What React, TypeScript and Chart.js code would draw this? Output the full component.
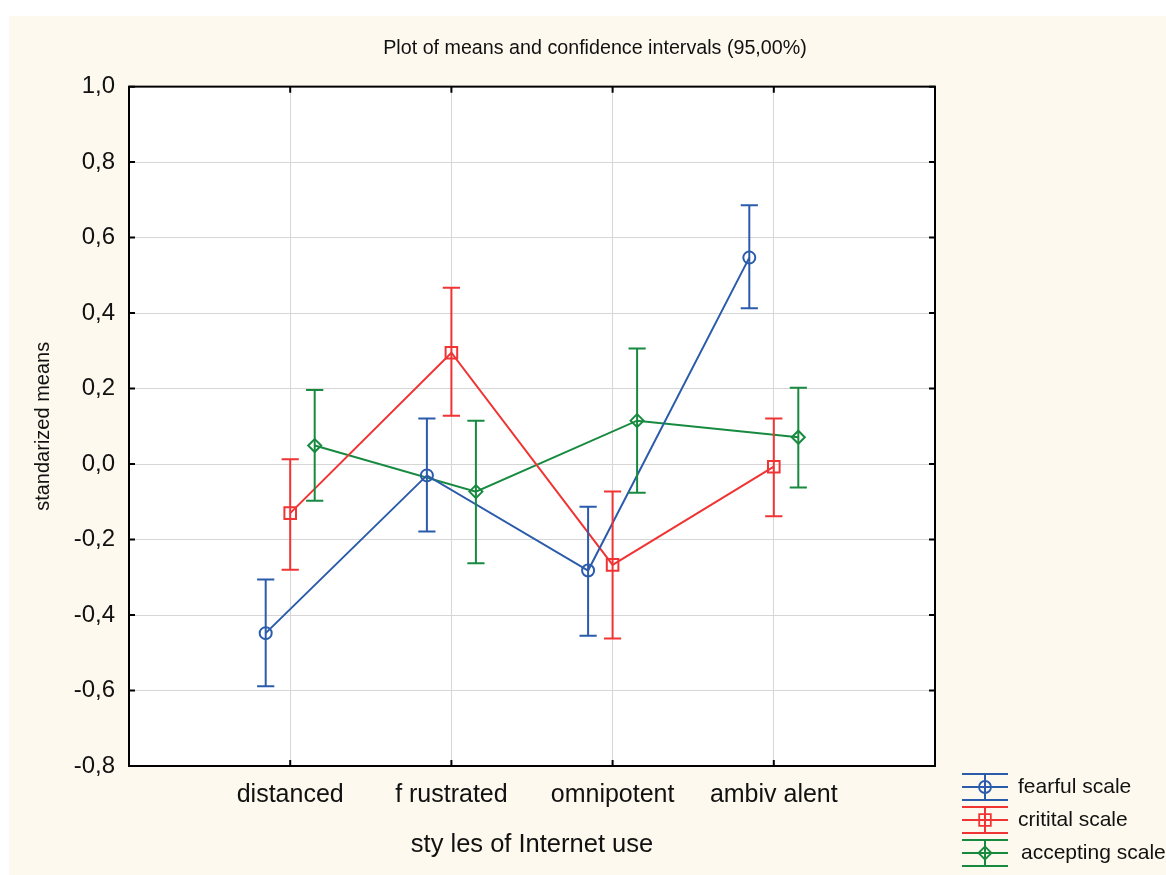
import React, { useEffect, useRef } from "react";
import { Chart, registerables } from "chart.js";

Chart.register(...registerables);

// ---------- data ----------
const categories = ["distanced", "f rustrated", "omnipotent", "ambiv alent"];
const seriesNames = ["fearful scale", "critital scale", "accepting scale"];

const fearfulMean = [-0.448, -0.03, -0.282, 0.547];
const fearfulLow = [-0.589, -0.179, -0.455, 0.413];
const fearfulHigh = [-0.306, 0.121, -0.113, 0.686];

const criticalMean = [-0.13, 0.295, -0.267, -0.007];
const criticalLow = [-0.28, 0.128, -0.462, -0.138];
const criticalHigh = [0.013, 0.467, -0.073, 0.121];

const acceptingMean = [0.049, -0.073, 0.115, 0.071];
const acceptingLow = [-0.097, -0.263, -0.076, -0.062];
const acceptingHigh = [0.196, 0.115, 0.306, 0.202];

const yTickValues = [-0.8, -0.6, -0.4, -0.2, 0, 0.2, 0.4, 0.6, 0.8, 1.0];

const chartTitle = "Plot of means and confidence intervals (95,00%)";
const xTitle = "sty les of Internet use";
const yTitle = "standarized means";

// ---------- styles ----------
const FONT = '"Liberation Sans", Arial, Helvetica, sans-serif';
const COLORS = ["#2b5cab", "#f03434", "#178a40"];
const OFFSETS = [-0.152, 0, 0.152];
const POINT_STYLES = ["circle", "rect", "rectRot"];
const POINT_RADII = [6, 8.2, 6.5];
const TEXT = "#111111";
const GRID = "#d6d6d6";
const CREAM = "#fdf9ee";

const means = [fearfulMean, criticalMean, acceptingMean];
const lows = [fearfulLow, criticalLow, acceptingLow];
const highs = [fearfulHigh, criticalHigh, acceptingHigh];

const fmt = (v: number) => v.toFixed(1).replace(".", ",").replace("-0,0", "0,0");

function drawMarker(ctx: CanvasRenderingContext2D, style: string, x: number, y: number, r: number) {
  ctx.beginPath();
  if (style === "circle") {
    ctx.arc(x, y, r, 0, Math.PI * 2);
  } else if (style === "rect") {
    const s = r * Math.SQRT1_2;
    ctx.rect(x - s, y - s, 2 * s, 2 * s);
  } else {
    ctx.moveTo(x - r, y);
    ctx.lineTo(x, y - r);
    ctx.lineTo(x + r, y);
    ctx.lineTo(x, y + r);
    ctx.closePath();
  }
  ctx.stroke();
}

const backgroundPlugin = {
  id: "bgPlugin",
  beforeDraw(chart: any) {
    const { ctx, width, height, chartArea } = chart;
    ctx.save();
    ctx.fillStyle = "#ffffff";
    ctx.fillRect(0, 0, width, height);
    ctx.fillStyle = CREAM;
    ctx.fillRect(9, 16, width - 9, height - 16);
    ctx.fillStyle = "#ffffff";
    ctx.fillRect(chartArea.left, chartArea.top, chartArea.right - chartArea.left, chartArea.bottom - chartArea.top);
    ctx.restore();
  },
};

const errorBarPlugin = {
  id: "errorBars",
  afterDatasetsDraw(chart: any) {
    const { ctx } = chart;
    const xs = chart.scales.x;
    const ys = chart.scales.y;
    chart.data.datasets.forEach((ds: any) => {
      ctx.save();
      ctx.strokeStyle = ds.borderColor;
      ctx.lineWidth = 2;
      ds.data.forEach((p: any, i: number) => {
        const px = xs.getPixelForValue(p.x);
        const yl = ys.getPixelForValue(ds.lower[i]);
        const yh = ys.getPixelForValue(ds.upper[i]);
        const cap = 8.6;
        ctx.beginPath();
        ctx.moveTo(px, yh);
        ctx.lineTo(px, yl);
        ctx.moveTo(px - cap, yh);
        ctx.lineTo(px + cap, yh);
        ctx.moveTo(px - cap, yl);
        ctx.lineTo(px + cap, yl);
        ctx.stroke();
      });
      ctx.restore();
    });
  },
};

const framePlugin = {
  id: "framePlugin",
  afterDraw(chart: any) {
    const { ctx, chartArea } = chart;
    const { left, right, top, bottom } = chartArea;
    const xs = chart.scales.x;
    const ys = chart.scales.y;
    ctx.save();
    ctx.strokeStyle = "#000000";
    ctx.lineWidth = 2;
    ctx.strokeRect(left, top, right - left, bottom - top);
    const tl = 6;
    ctx.beginPath();
    ys.ticks.forEach((t: any) => {
      const py = ys.getPixelForValue(t.value);
      ctx.moveTo(left, py);
      ctx.lineTo(left + tl, py);
      ctx.moveTo(right, py);
      ctx.lineTo(right - tl, py);
    });
    xs.ticks.forEach((t: any) => {
      const px = xs.getPixelForValue(t.value);
      ctx.moveTo(px, top);
      ctx.lineTo(px, top + tl);
      ctx.moveTo(px, bottom);
      ctx.lineTo(px, bottom - tl);
    });
    ctx.stroke();
    ctx.restore();
  },
};

const legendPlugin = {
  id: "customLegend",
  afterDraw(chart: any) {
    const { ctx } = chart;
    const x0 = 962;
    const x1 = 1008;
    const xc = 985;
    ctx.save();
    chart.data.datasets.forEach((ds: any, s: number) => {
      const cy = 787 + 33 * s;
      ctx.strokeStyle = ds.borderColor;
      ctx.lineWidth = 2;
      ctx.beginPath();
      ctx.moveTo(x0, cy - 13);
      ctx.lineTo(x1, cy - 13);
      ctx.moveTo(x0, cy);
      ctx.lineTo(x1, cy);
      ctx.moveTo(x0, cy + 13);
      ctx.lineTo(x1, cy + 13);
      ctx.moveTo(xc, cy - 13);
      ctx.lineTo(xc, cy + 13);
      ctx.stroke();
      ctx.lineWidth = 1.8;
      drawMarker(ctx, ds.pointStyle, xc, cy, ds.pointRadius);
      ctx.fillStyle = TEXT;
      ctx.font = `21px ${FONT}`;
      ctx.textAlign = "left";
      ctx.textBaseline = "middle";
      ctx.fillText(ds.label, s === 2 ? 1021 : 1018, cy);
    });
    ctx.restore();
  },
};

export default function App() {
  const canvasRef = useRef<HTMLCanvasElement | null>(null);

  useEffect(() => {
    const canvas = canvasRef.current;
    if (!canvas) return;

    const datasets = seriesNames.map((name, s) => ({
      label: name,
      type: "line" as const,
      data: categories.map((_, i) => ({ x: i + 1 + OFFSETS[s], y: means[s][i] })),
      lower: lows[s],
      upper: highs[s],
      borderColor: COLORS[s],
      backgroundColor: "rgba(0,0,0,0)",
      borderWidth: 2,
      pointStyle: POINT_STYLES[s],
      pointRadius: POINT_RADII[s],
      pointBorderWidth: 2,
      pointBorderColor: COLORS[s],
      pointBackgroundColor: "rgba(0,0,0,0)",
      fill: false,
      tension: 0,
    }));

    const chart = new Chart(canvas, {
      type: "line",
      data: { datasets: datasets as any },
      options: {
        animation: false,
        responsive: false,
        events: [],
        layout: { padding: { left: 24, right: 0, top: 0, bottom: 0 } },
        plugins: {
          legend: { display: false },
          tooltip: { enabled: false },
          title: {
            display: true,
            text: chartTitle,
            color: TEXT,
            font: { family: FONT, size: 19.7, weight: "normal" },
            padding: { top: 37, bottom: 26 },
          },
        },
        scales: {
          x: {
            type: "linear",
            min: 0,
            max: 5,
            afterBuildTicks: (s: any) => {
              s.ticks = categories.map((_, i) => ({ value: i + 1 }));
            },
            afterFit: (s: any) => {
              s.height = 109;
            },
            ticks: {
              callback: (v: any) => categories[Number(v) - 1] ?? "",
              color: TEXT,
              font: { family: FONT, size: 25 },
              padding: 14,
              autoSkip: false,
              maxRotation: 0,
            },
            grid: { color: GRID, lineWidth: 1, drawTicks: false },
            border: { display: false },
            title: {
              display: true,
              text: xTitle,
              color: TEXT,
              font: { family: FONT, size: 25.5 },
              padding: { top: 0, bottom: 15 },
            },
          },
          y: {
            type: "linear",
            min: -0.8,
            max: 1.0,
            afterBuildTicks: (s: any) => {
              s.ticks = yTickValues.map((v) => ({ value: v }));
            },
            afterFit: (s: any) => {
              s.width = 105;
            },
            ticks: {
              callback: (v: any) => fmt(Number(v)),
              color: TEXT,
              font: { family: FONT, size: 24 },
              padding: 14,
            },
            grid: { color: GRID, lineWidth: 1, drawTicks: false },
            border: { display: false },
            title: {
              display: true,
              text: yTitle,
              color: TEXT,
              font: { family: FONT, size: 20 },
              padding: { top: 7, bottom: 0 },
            },
          },
          yR: {
            type: "linear",
            position: "right",
            display: true,
            grid: { display: false, drawTicks: false },
            ticks: { display: false },
            border: { display: false },
            afterFit: (s: any) => {
              s.width = 231;
            },
          },
        },
      } as any,
      plugins: [backgroundPlugin, errorBarPlugin, framePlugin, legendPlugin],
    });

    return () => {
      chart.destroy();
    };
  }, []);

  return (
    <div style={{ position: "fixed", left: 0, top: 0, width: 1166, height: 875, overflow: "hidden" }}>
      <canvas ref={canvasRef} width={1166} height={875} style={{ display: "block", width: 1166, height: 875 }} />
    </div>
  );
}
